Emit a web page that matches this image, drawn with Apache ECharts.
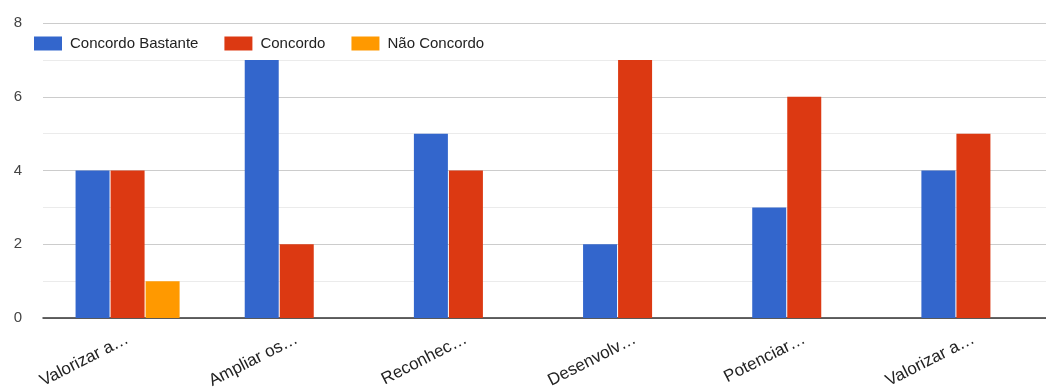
<!DOCTYPE html>
<html>
<head>
<meta charset="utf-8">
<script src="https://cdn.jsdelivr.net/npm/echarts@6/dist/echarts.min.js"></script>
<style>
  html, body { margin: 0; padding: 0; background: #fff; }
  #chart { width: 1046px; height: 392px; }
</style>
</head>
<body>
<div id="chart"></div>
<script>
// Survey answers per statement
const categories = ['Valorizar a…', 'Ampliar os…', 'Reconhec…', 'Desenvolv…', 'Potenciar…', 'Valorizar a…'];
const concordoBastante = [4, 7, 5, 2, 3, 4];
const concordo = [4, 2, 4, 7, 6, 5];
const naoConcordo = [1, null, null, null, null, null];
const yTicks = { min: 0, max: 8, interval: 2 };

const FONT = 'Liberation Sans, Arial, sans-serif';

const chart = echarts.init(document.getElementById('chart'), null, { renderer: 'canvas' });

function barSeries(name, data, color) {
  return {
    name: name,
    type: 'bar',
    data: data,
    barWidth: 34,
    barGap: '3%',
    itemStyle: { color: color },
    emphasis: { disabled: true }
  };
}

chart.setOption({
  animation: false,
  color: ['#3366cc', '#dc3912', '#ff9900'],
  textStyle: { fontFamily: FONT },
  legend: {
    left: 29,
    top: 31,
    itemWidth: 28,
    itemHeight: 14,
    itemGap: 26,
    icon: 'rect',
    textStyle: { fontFamily: FONT, fontSize: 15, color: '#222', padding: [0, 0, 0, 3] },
    data: ['Concordo Bastante', 'Concordo', 'Não Concordo']
  },
  // the plot runs a little past the right edge of the canvas
  grid: { left: 43, right: -12, top: 23, bottom: 74, containLabel: false, outerBoundsMode: 'none' },
  xAxis: {
    type: 'category',
    data: categories,
    axisLine: { lineStyle: { color: '#333', width: 1.5 } },
    axisTick: { show: false },
    axisLabel: { rotate: 27, fontSize: 17, color: '#222', fontFamily: FONT, margin: 20, interval: 0 }
  },
  yAxis: {
    type: 'value',
    min: yTicks.min,
    max: yTicks.max,
    interval: yTicks.interval,
    axisLine: { show: false },
    axisTick: { show: false },
    axisLabel: { fontSize: 15, color: '#444', fontFamily: FONT, margin: 21 },
    splitLine: { lineStyle: { color: '#cccccc', width: 1 } },
    minorTick: { show: false, splitNumber: 2 },
    minorSplitLine: { show: true, lineStyle: { color: '#ebebeb', width: 1 } }
  },
  series: [
    barSeries('Concordo Bastante', concordoBastante, '#3366cc'),
    barSeries('Concordo', concordo, '#dc3912'),
    barSeries('Não Concordo', naoConcordo, '#ff9900')
  ]
});
</script>
</body>
</html>
